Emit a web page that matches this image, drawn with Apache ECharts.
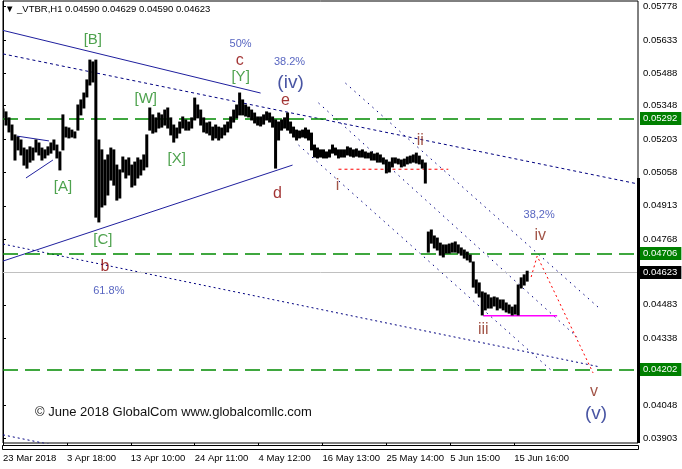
<!DOCTYPE html>
<html><head><meta charset="utf-8">
<script src="https://cdn.jsdelivr.net/npm/echarts@6/dist/echarts.min.js"></script>
<style>html,body{margin:0;padding:0;background:#fff}#c{width:682px;height:469px}</style>
</head><body><div id="c"></div>
<script>
// ---------- data (prices in points, 1 point = 0.00001) ----------
const POINT = 0.00001;
const symbolName = '_VTBR,H1';
const lastOHLC = ['0.04590', '0.04629', '0.04590', '0.04623'];
const BAR_STEP = 3; // one sample every 3 hourly bars
const barHigh = [
5334,5321,5295,5264,5221,5212,5199,5164,5156,5169,
5164,5199,5186,5164,5156,5169,5186,5199,5177,5147,
5308,5255,5251,5242,5234,5351,5373,5403,5460,5546,
5538,5546,5199,5156,5112,5134,5164,5156,5090,5069,
5125,5112,5121,5090,5103,5121,5112,5134,5221,5338,
5308,5295,5316,5308,5329,5338,5295,5264,5251,5277,
5299,5286,5277,5295,5381,5351,5329,5295,5273,5277,
5255,5264,5255,5251,5264,5277,5299,5329,5351,5403,
5373,5351,5342,5329,5316,5299,5299,5308,5321,5316,
5299,5286,5277,5286,5295,5316,5277,5255,5242,5238,
5242,5251,5242,5229,5177,5164,5156,5156,5147,5156,
5177,5164,5156,5156,5156,5169,5164,5156,5160,5151,
5156,5147,5142,5147,5138,5142,5134,5121,5112,5103,
5121,5121,5116,5112,5116,5125,5129,5134,5142,5129,
5112,5099,4799,4808,4782,4773,4751,4743,4743,4747,
4751,4756,4743,4730,4721,4712,4699,4669,4591,4578,
4539,4534,4526,4513,4517,4513,4504,4504,4491,4482,
4473,4482,4569,4600,4613,4629];
const barLow = [
5299,5264,5234,5199,5112,5156,5134,5090,5077,5103,
5112,5147,5134,5112,5121,5134,5142,5156,5121,5069,
5156,5212,5208,5212,5208,5242,5308,5338,5386,5438,
5451,4864,4843,4908,4917,4960,5025,5003,4938,4947,
5060,5034,5047,4995,5003,5034,5047,5069,5082,5242,
5229,5234,5251,5255,5264,5251,5221,5190,5208,5229,
5251,5242,5242,5251,5286,5295,5264,5234,5229,5221,
5199,5208,5199,5208,5221,5234,5251,5277,5295,5308,
5308,5303,5299,5286,5273,5264,5260,5268,5286,5277,
5255,5077,5199,5242,5251,5242,5229,5212,5199,5208,
5212,5208,5199,5156,5125,5121,5125,5121,5121,5125,
5142,5134,5121,5125,5125,5134,5129,5125,5129,5125,
5125,5121,5121,5112,5112,5103,5103,5095,5056,5060,
5082,5099,5095,5082,5086,5095,5099,5103,5099,5095,
5077,5012,4712,4751,4730,4721,4699,4691,4708,4708,
4712,4712,4708,4699,4686,4678,4669,4560,4534,4517,
4439,4461,4469,4469,4478,4461,4469,4461,4452,4447,
4439,4443,4439,4556,4569,4586];

const priceTicks = [0.05778,0.05633,0.05488,0.05348,0.05203,0.05058,0.04913,0.04768,0.04483,0.04338,0.04048,0.03903];
const dateTickBars = [0,64,128,192,256,320,384,448,512];
const dateTickLabels = ['23 Mar 2018','3 Apr 18:00','13 Apr 10:00','24 Apr 11:00','4 May 12:00','16 May 13:00','25 May 14:00','5 Jun 15:00','15 Jun 16:00'];

const greenLevels = [0.05292, 0.04706, 0.04202];
const bidPrice = 0.04623;

// trend lines: [bar, points]
const triangleTop    = [[0,5675],[258,5403]];
const triangleBottom = [[0,4673],[290,5090]];
const smallTriTop    = [[14,5216],[46,5195]];
const smallTriBottom = [[23,5034],[50,5112]];
const longUpper      = [[0,5573],[636,5008]];
const longLower      = [[0,4747],[598,4213]];
const longLowest     = [[0,3918],[60,3865]];
const channel1       = [[296,5177],[551,4191]];
const channel2       = [[316,5360],[575,4343]];
const channel3       = [[343,5446],[596,4473]];
const waveIBase      = [[336,5072],[446,5072]];
const waveIIIBase    = [[481,4436],[555,4436]];
const projection     = [[529,4604],[535,4695],[591,4187]];

// wave labels: [text, bar, points, kind]
const waveLabels = [
  ['[B]',90,5633,'g'], ['50%',238,5616,'p'], ['c',237,5542,'r'], ['[Y]',238,5473,'g'],
  ['38.2%',287,5538,'p'], ['(iv)',288,5447,'B'], ['e',283,5368,'r'], ['[W]',143,5377,'g'],
  ['[X]',174,5116,'g'], ['[A]',60,4995,'g'], ['[C]',100,4764,'g'], ['b',102,4647,'r'],
  ['61.8%',106,4543,'p'], ['d',275,4964,'r'], ['i',335,4999,'m'], ['ii',418,5195,'m'],
  ['iii',481,4374,'m'], ['38,2%',537,4873,'p'], ['iv',538,4782,'m'], ['v',592,4104,'m'],
  ['(v)',594,4009,'B']
];
const frameMarkTop = 0.05034;

// ---------- chart ----------
const X_MIN = 0, X_MAX = 636, Y_MIN = 0.038827, Y_MAX = 0.058028;
const FONT = 'Liberation Sans, Arial, sans-serif';
const kindStyle = {
  g: {color:'#228b22', fontSize:15},
  r: {color:'#8b0000', fontSize:16},
  B: {color:'#1c2a8c', fontSize:19},
  m: {color:'#8b2a1a', fontSize:16},
  p: {color:'#2a3cb0', fontSize:11}
};

const barData = barHigh.map((h, k) => [k * BAR_STEP, barLow[k] * POINT, h * POINT]);
const toSeries = pts => pts.map(p => [p[0], p[1] * POINT]);

function lineSeries(pts, color, type, width) {
  return {type:'line', data: toSeries(pts), symbol:'none', silent:true, clip:true, z:2,
    lineStyle:{color, width: width || 1, type}, animation:false};
}

const tagLabel = bg => ({show:true, position:'end', distance:2, formatter: p => Number(p.value).toFixed(5), color:'#fff',
  backgroundColor:bg, padding:[2,4,1,3], fontSize:9.5, fontFamily:FONT});

function levelSeries(value, color, type, bg, width) {
  return {
    type:'line', data:[], silent:true, z:1,
    markLine: {
      silent:true, symbol:['none','none'], animation:false, precision:5,
      lineStyle:{color, width, type},
      label: tagLabel(bg),
      data: [{yAxis:value}]
    }
  };
}

const option = {
  animation: false,
  backgroundColor: '#ffffff',
  grid: {left:2, top:1, width:636, height:442, show:true, borderColor:'#000', borderWidth:1, backgroundColor:'#fff'},
  xAxis: {
    type:'value', min:X_MIN, max:X_MAX,
    axisLine:{show:false}, splitLine:{show:false},
    axisTick:{show:true, customValues:dateTickBars, length:7, lineStyle:{color:'#000'}},
    axisLabel:{show:true, customValues:dateTickBars, align:'left', margin:10, color:'#000', fontSize:9.5, fontFamily:FONT,
      formatter: v => dateTickLabels[dateTickBars.indexOf(v)] || ''}
  },
  yAxis: {
    type:'value', position:'right', min:Y_MIN, max:Y_MAX,
    axisLine:{show:true, lineStyle:{color:'#000'}}, splitLine:{show:false},
    axisTick:{show:true, customValues:priceTicks, length:3, lineStyle:{color:'#000'}},
    axisLabel:{show:true, customValues:priceTicks, margin:5, color:'#000', fontSize:9.5, fontFamily:FONT,
      formatter: v => v.toFixed(5)}
  },
  graphic: [
    {type:'text', left:5, top:4, z:100, style:{text:'▼ ' + symbolName + ' ' + lastOHLC.join(' '), fill:'#000', font:'9.5px ' + FONT}},
    {type:'text', left:35, top:406, z:100, style:{text:'© June 2018 GlobalCom www.globalcomllc.com', fill:'#111', font:'13px ' + FONT}},
    {type:'rect', left:2, top:445, z:100, shape:{width:636, height:4}, style:{fill:'#fff', stroke:'#000', lineWidth:1}}
  ],
  series: [
    ...greenLevels.map(v => levelSeries(v, '#008a00', [15,7], '#008000', 1.5)),
    levelSeries(bidPrice, '#c0c0c0', 'solid', '#000', 1),
    {
      type:'line', data:[], silent:true, z:1,
      markLine: {
        silent:true, symbol:['none','none'], animation:false, precision:5,
        lineStyle:{color:'#000', width:3, type:'solid'}, label:{show:false},
        data: [[{coord:[X_MAX, frameMarkTop]}, {coord:[X_MAX, Y_MIN]}]]
      }
    },
    lineSeries(triangleTop, '#1f1f9e', 'solid'),
    lineSeries(triangleBottom, '#1f1f9e', 'solid'),
    lineSeries(smallTriTop, '#1f1f9e', 'solid'),
    lineSeries(smallTriBottom, '#1f1f9e', 'solid'),
    lineSeries(longUpper, '#000080', [3,3]),
    lineSeries(longLower, '#000080', [2,3]),
    lineSeries(longLowest, '#000080', [2,3]),
    lineSeries(channel1, '#000080', [1.5,4.5]),
    lineSeries(channel2, '#000080', [1.5,4.5]),
    lineSeries(channel3, '#000080', [1.5,4.5]),
    lineSeries(waveIBase, '#ff0000', [3,3]),
    lineSeries(waveIIIBase, '#ff00ff', 'solid', 1.5),
    lineSeries(projection, '#ff0000', [2,3]),
    {
      type:'custom', silent:true, z:5, clip:true, data: barData,
      encode:{x:0, y:[1,2]},
      renderItem: (params, api) => {
        const x = api.value(0);
        const a = api.coord([x, api.value(2)]);
        const b = api.coord([x, api.value(1)]);
        return {type:'line', shape:{x1:a[0], y1:a[1] - 0.5, x2:b[0], y2:b[1] + 0.5},
          style:{stroke:'#000', lineWidth:3}};
      }
    },
    {
      type:'scatter', symbolSize:0, silent:true, z:10, clip:false,
      data: waveLabels.map(w => ({value:[w[1], w[2] * POINT],
        label:{formatter:w[0], color:kindStyle[w[3]].color, fontSize:kindStyle[w[3]].fontSize}})),
      label:{show:true, position:'inside', fontFamily:FONT}
    }
  ]
};
const chart = echarts.init(document.getElementById('c'));
chart.setOption(option);
</script></body></html>
